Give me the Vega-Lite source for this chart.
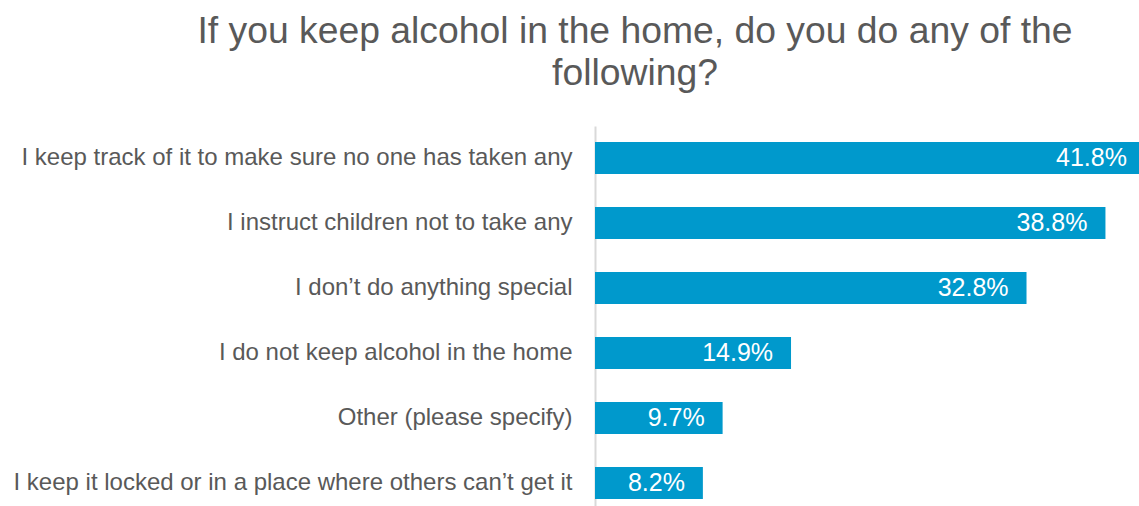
{
  "$schema": "https://vega.github.io/schema/vega-lite/v6.json",
  "width": 544,
  "height": 380,
  "autosize": {"type": "none"},
  "padding": {"left": 595, "top": 126, "right": 0, "bottom": 0},
  "background": "white",
  "config": {"view": {"stroke": null}},
  "title": {
    "text": ["If you keep alcohol in the home, do you do any of the", "following?"],
    "anchor": "middle",
    "dx": -232,
    "font": "Liberation Sans",
    "fontSize": 37.3,
    "fontWeight": "normal",
    "color": "#595959",
    "lineHeight": 42,
    "offset": 33
  },
  "data": {
    "values": [
      {"option": "I keep track of it to make sure no one has taken any", "pct": 0.418},
      {"option": "I instruct children not to take any", "pct": 0.388},
      {"option": "I don’t do anything special", "pct": 0.328},
      {"option": "I do not keep alcohol in the home", "pct": 0.149},
      {"option": "Other (please specify)", "pct": 0.097},
      {"option": "I keep it locked or in a place where others can’t get it", "pct": 0.082}
    ]
  },
  "encoding": {
    "y": {
      "field": "option",
      "type": "nominal",
      "sort": null,
      "scale": {"paddingInner": 0.508, "paddingOuter": 0.177, "align": 0.7},
      "axis": {
        "title": null,
        "ticks": false,
        "domainColor": "#D9D9D9",
        "domainWidth": 2,
        "labelFont": "Liberation Sans",
        "labelFontSize": 24,
        "labelColor": "#595959",
        "labelPadding": 23,
        "labelLimit": 600
      }
    }
  },
  "layer": [
    {
      "mark": {"type": "bar", "color": "#0099CC", "clip": true},
      "encoding": {
        "x": {"field": "pct", "type": "quantitative", "scale": {"domain": [0, 0.4135], "nice": false}, "axis": null}
      }
    },
    {
      "mark": {"type": "text", "align": "right", "dx": -18, "color": "white", "fontSize": 25, "font": "Liberation Sans", "baseline": "middle"},
      "encoding": {
        "x": {"field": "pct", "type": "quantitative"},
        "text": {"field": "pct", "type": "quantitative", "format": ".1%"}
      }
    }
  ]
}
